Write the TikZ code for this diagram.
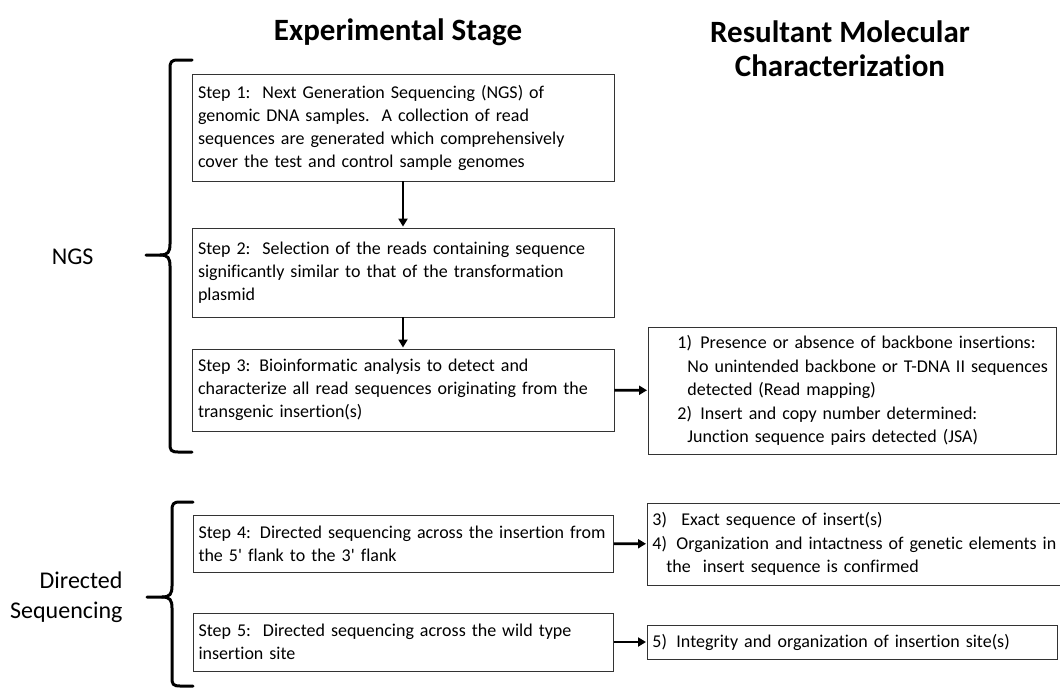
\documentclass[tikz,border=0pt]{standalone}
\usepackage{fontspec}
\setmainfont{Carlito}[Ligatures=NoCommon]
\usetikzlibrary{arrows.meta}
\newcommand{\sq}{\textquotesingle}
\begin{document}
\begin{tikzpicture}[x=1pt,y=-1pt,
  stepbox/.style={draw=black!80, line width=0.9pt, align=left, inner xsep=6pt, inner ysep=0pt,
     font=\fontsize{18}{23}\selectfont},
  resbox/.style={draw=black!80, line width=0.9pt, align=left, inner xsep=5pt, inner ysep=0pt,
     font=\fontsize{18}{23.5}\selectfont},
  conn/.style={line width=2.6pt, -{Triangle[length=8pt,width=9pt]}, shorten >=1pt},
  bracepath/.style={line width=3pt, line cap=round},
  title/.style={font=\fontsize{31}{34}\selectfont\bfseries, align=center},
  side/.style={font=\fontsize{24}{30}\selectfont, align=right, anchor=east}]
\useasboundingbox (0,0) rectangle (1060,688);
\clip (0,0) rectangle (1060,688);

% titles
\node[title] (t1) at (398,32) {Experimental Stage};
\node[title] (t2) at (840,49) {Resultant Molecular\\Characterization};

% side labels
\node[side] (lngs) at (97,257) {NGS};
\node[side] (lds) at (126,597) {Directed\\Sequencing};

% step boxes
\node[stepbox, text width=410pt, minimum height=107pt] (s1) at (403,127.5)
 {Step 1:\ \ Next Generation Sequencing (NGS) of\\genomic DNA samples.\ \ A collection of read\\sequences are generated which comprehensively\\cover the test and control sample genomes};
\node[stepbox, text width=410pt, minimum height=89pt] (s2) at (403,272.5)
 {Step 2:\ \ Selection of the reads containing sequence\\significantly similar to that of the transformation\\plasmid};
\node[stepbox, text width=410pt, minimum height=82pt] (s3) at (403,390)
 {Step 3: Bioinformatic analysis to detect and\\characterize all read sequences originating from the\\transgenic insertion(s)};
\node[stepbox, text width=410pt, inner xsep=5pt, minimum height=57pt] (s4) at (403.5,543.5)
 {Step 4: Directed sequencing across the insertion from\\the 5\sq{} flank to the 3\sq{} flank};
\node[stepbox, text width=410pt, inner xsep=5pt, minimum height=58pt] (s5) at (403.5,642)
 {Step 5:\ \ Directed sequencing across the wild type\\insertion site};

% result boxes
\node[resbox, anchor=west, text width=398pt, minimum height=127pt] (r1) at (648,390.5)
 {\hspace*{24pt}\makebox[23pt][l]{1)}Presence or absence of backbone insertions:\\
  \hspace*{34pt}No unintended backbone or T-DNA II sequences\\
  \hspace*{34pt}detected (Read mapping)\\
  \hspace*{24pt}\makebox[23pt][l]{2)}Insert and copy number determined:\\
  \hspace*{34pt}Junction sequence pairs detected (JSA)};
\node[resbox, anchor=west, text width=430pt, minimum height=82pt] (r2) at (647,544)
 {\makebox[29pt][l]{3)}Exact sequence of insert(s)\\
  \makebox[24pt][l]{4)}Organization and intactness of genetic elements in\\
  \hspace*{14pt}the\ \ insert sequence is confirmed};
\node[resbox, anchor=west, text width=400pt, minimum height=34pt] (r3) at (647,642)
 {\makebox[24pt][l]{5)}Integrity and organization of insertion site(s)};

% connectors
\draw[conn] (s1) -- (s2);
\draw[conn] (s2) -- (s3);
\draw[conn] (s3) -- (r1);
\draw[conn] (s4) -- (r2);
\draw[conn] (s5) -- (r3);

% braces
\coordinate (b1top) at (192,60);
\coordinate (b1tip) at (146,255);
\coordinate (b1bot) at (192,452);
\draw[bracepath] (b1top) -- (178,60) .. controls (171,60) and (170,62) .. (170,69)
  -- (170,244) .. controls (170,252) and (168,255) .. (160,255) -- (b1tip);
\draw[bracepath] (160,255) .. controls (168,255) and (170,258) .. (170,266)
  -- (170,444) .. controls (170,450) and (171,452) .. (178,452) -- (b1bot);

\coordinate (b2top) at (193,502);
\coordinate (b2tip) at (147,597);
\coordinate (b2bot) at (193,686);
\draw[bracepath] (b2top) -- (180,502) .. controls (173,502) and (172,504) .. (172,511)
  -- (172,586) .. controls (172,594) and (170,597) .. (162,597) -- (b2tip);
\draw[bracepath] (162,597) .. controls (170,597) and (172,600) .. (172,608)
  -- (172,678) .. controls (172,684) and (173,686) .. (180,686) -- (b2bot);
\end{tikzpicture}
\end{document}
